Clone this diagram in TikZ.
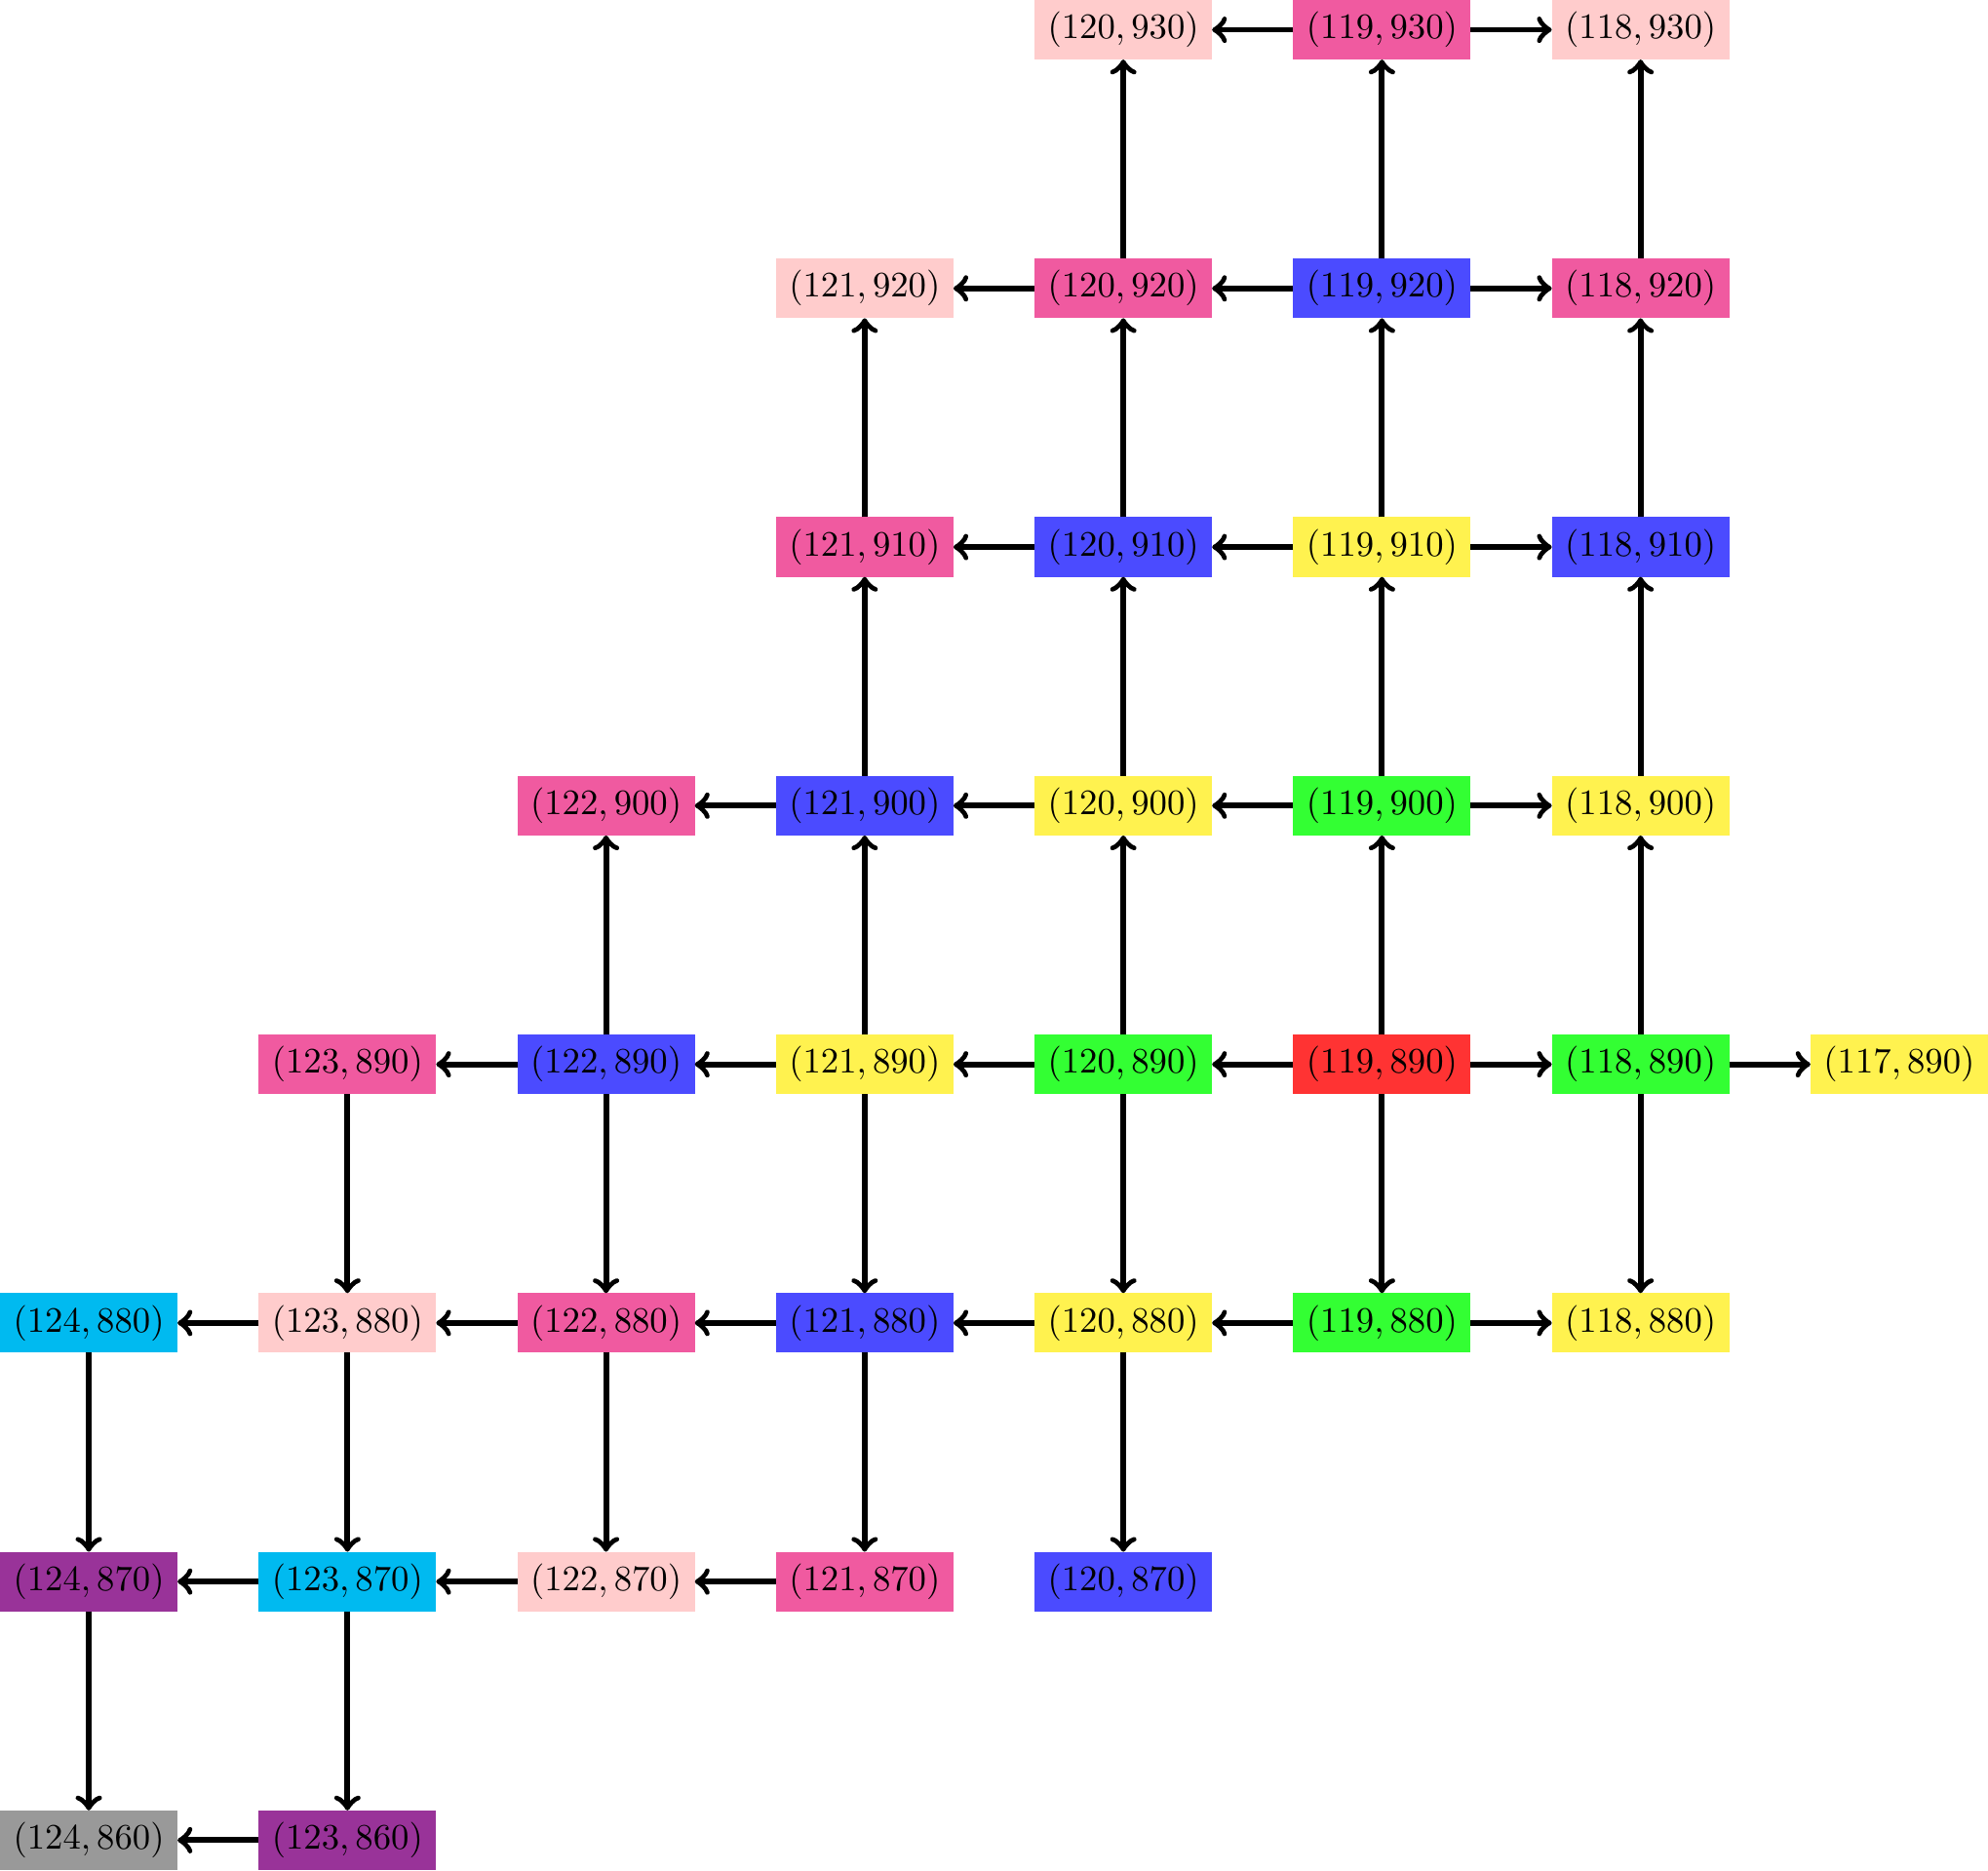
\documentclass[tikz,border=0pt]{standalone}
\usetikzlibrary{arrows}
\definecolor{lpink}{HTML}{FFCCCC}
\definecolor{hpink}{HTML}{F05AA0}
\definecolor{mblue}{HTML}{4B4BFF}
\definecolor{myel}{HTML}{FFF24F}
\definecolor{mgreen}{HTML}{33FF33}
\definecolor{mred}{HTML}{FF3333}
\definecolor{mcyan}{HTML}{00BAF0}
\definecolor{mpurp}{HTML}{993399}
\definecolor{mgray}{HTML}{999999}
\tikzset{
  cell/.style={rectangle, inner xsep=3.7pt, inner ysep=3.333pt, outer sep=0pt},
  conn/.style={->, ultra thick, black},
}
\begin{document}
\begin{tikzpicture}[x=1in,y=1in]
% row 930
\node[cell,fill=lpink] (a120b930) at (4,7) {$(120,930)$};
\node[cell,fill=hpink] (a119b930) at (5,7) {$(119,930)$};
\node[cell,fill=lpink] (a118b930) at (6,7) {$(118,930)$};
% row 920
\node[cell,fill=lpink] (a121b920) at (3,6) {$(121,920)$};
\node[cell,fill=hpink] (a120b920) at (4,6) {$(120,920)$};
\node[cell,fill=mblue] (a119b920) at (5,6) {$(119,920)$};
\node[cell,fill=hpink] (a118b920) at (6,6) {$(118,920)$};
% row 910
\node[cell,fill=hpink] (a121b910) at (3,5) {$(121,910)$};
\node[cell,fill=mblue] (a120b910) at (4,5) {$(120,910)$};
\node[cell,fill=myel] (a119b910) at (5,5) {$(119,910)$};
\node[cell,fill=mblue] (a118b910) at (6,5) {$(118,910)$};
% row 900
\node[cell,fill=hpink] (a122b900) at (2,4) {$(122,900)$};
\node[cell,fill=mblue] (a121b900) at (3,4) {$(121,900)$};
\node[cell,fill=myel] (a120b900) at (4,4) {$(120,900)$};
\node[cell,fill=mgreen] (a119b900) at (5,4) {$(119,900)$};
\node[cell,fill=myel] (a118b900) at (6,4) {$(118,900)$};
% row 890
\node[cell,fill=hpink] (a123b890) at (1,3) {$(123,890)$};
\node[cell,fill=mblue] (a122b890) at (2,3) {$(122,890)$};
\node[cell,fill=myel] (a121b890) at (3,3) {$(121,890)$};
\node[cell,fill=mgreen] (a120b890) at (4,3) {$(120,890)$};
\node[cell,fill=mred] (a119b890) at (5,3) {$(119,890)$};
\node[cell,fill=mgreen] (a118b890) at (6,3) {$(118,890)$};
\node[cell,fill=myel] (a117b890) at (7,3) {$(117,890)$};
% row 880
\node[cell,fill=mcyan] (a124b880) at (0,2) {$(124,880)$};
\node[cell,fill=lpink] (a123b880) at (1,2) {$(123,880)$};
\node[cell,fill=hpink] (a122b880) at (2,2) {$(122,880)$};
\node[cell,fill=mblue] (a121b880) at (3,2) {$(121,880)$};
\node[cell,fill=myel] (a120b880) at (4,2) {$(120,880)$};
\node[cell,fill=mgreen] (a119b880) at (5,2) {$(119,880)$};
\node[cell,fill=myel] (a118b880) at (6,2) {$(118,880)$};
% row 870
\node[cell,fill=mpurp] (a124b870) at (0,1) {$(124,870)$};
\node[cell,fill=mcyan] (a123b870) at (1,1) {$(123,870)$};
\node[cell,fill=lpink] (a122b870) at (2,1) {$(122,870)$};
\node[cell,fill=hpink] (a121b870) at (3,1) {$(121,870)$};
\node[cell,fill=mblue] (a120b870) at (4,1) {$(120,870)$};
% row 860
\node[cell,fill=mgray] (a124b860) at (0,0) {$(124,860)$};
\node[cell,fill=mpurp] (a123b860) at (1,0) {$(123,860)$};
% connectors
\draw[conn] (a119b930) -- (a120b930);
\draw[conn] (a119b930) -- (a118b930);
\draw[conn] (a120b920) -- (a120b930);
\draw[conn] (a119b920) -- (a119b930);
\draw[conn] (a118b920) -- (a118b930);
\draw[conn] (a120b920) -- (a121b920);
\draw[conn] (a119b920) -- (a120b920);
\draw[conn] (a119b920) -- (a118b920);
\draw[conn] (a121b910) -- (a121b920);
\draw[conn] (a120b910) -- (a120b920);
\draw[conn] (a119b910) -- (a119b920);
\draw[conn] (a118b910) -- (a118b920);
\draw[conn] (a120b910) -- (a121b910);
\draw[conn] (a119b910) -- (a120b910);
\draw[conn] (a119b910) -- (a118b910);
\draw[conn] (a121b900) -- (a121b910);
\draw[conn] (a120b900) -- (a120b910);
\draw[conn] (a119b900) -- (a119b910);
\draw[conn] (a118b900) -- (a118b910);
\draw[conn] (a121b900) -- (a122b900);
\draw[conn] (a120b900) -- (a121b900);
\draw[conn] (a119b900) -- (a120b900);
\draw[conn] (a119b900) -- (a118b900);
\draw[conn] (a122b890) -- (a122b900);
\draw[conn] (a121b890) -- (a121b900);
\draw[conn] (a120b890) -- (a120b900);
\draw[conn] (a119b890) -- (a119b900);
\draw[conn] (a118b890) -- (a118b900);
\draw[conn] (a122b890) -- (a123b890);
\draw[conn] (a121b890) -- (a122b890);
\draw[conn] (a120b890) -- (a121b890);
\draw[conn] (a119b890) -- (a120b890);
\draw[conn] (a119b890) -- (a118b890);
\draw[conn] (a118b890) -- (a117b890);
\draw[conn] (a123b890) -- (a123b880);
\draw[conn] (a122b890) -- (a122b880);
\draw[conn] (a121b890) -- (a121b880);
\draw[conn] (a120b890) -- (a120b880);
\draw[conn] (a119b890) -- (a119b880);
\draw[conn] (a118b890) -- (a118b880);
\draw[conn] (a123b880) -- (a124b880);
\draw[conn] (a122b880) -- (a123b880);
\draw[conn] (a121b880) -- (a122b880);
\draw[conn] (a120b880) -- (a121b880);
\draw[conn] (a119b880) -- (a120b880);
\draw[conn] (a119b880) -- (a118b880);
\draw[conn] (a124b880) -- (a124b870);
\draw[conn] (a123b880) -- (a123b870);
\draw[conn] (a122b880) -- (a122b870);
\draw[conn] (a121b880) -- (a121b870);
\draw[conn] (a120b880) -- (a120b870);
\draw[conn] (a123b870) -- (a124b870);
\draw[conn] (a122b870) -- (a123b870);
\draw[conn] (a121b870) -- (a122b870);
\draw[conn] (a124b870) -- (a124b860);
\draw[conn] (a123b870) -- (a123b860);
\draw[conn] (a123b860) -- (a124b860);
\end{tikzpicture}
\end{document}
